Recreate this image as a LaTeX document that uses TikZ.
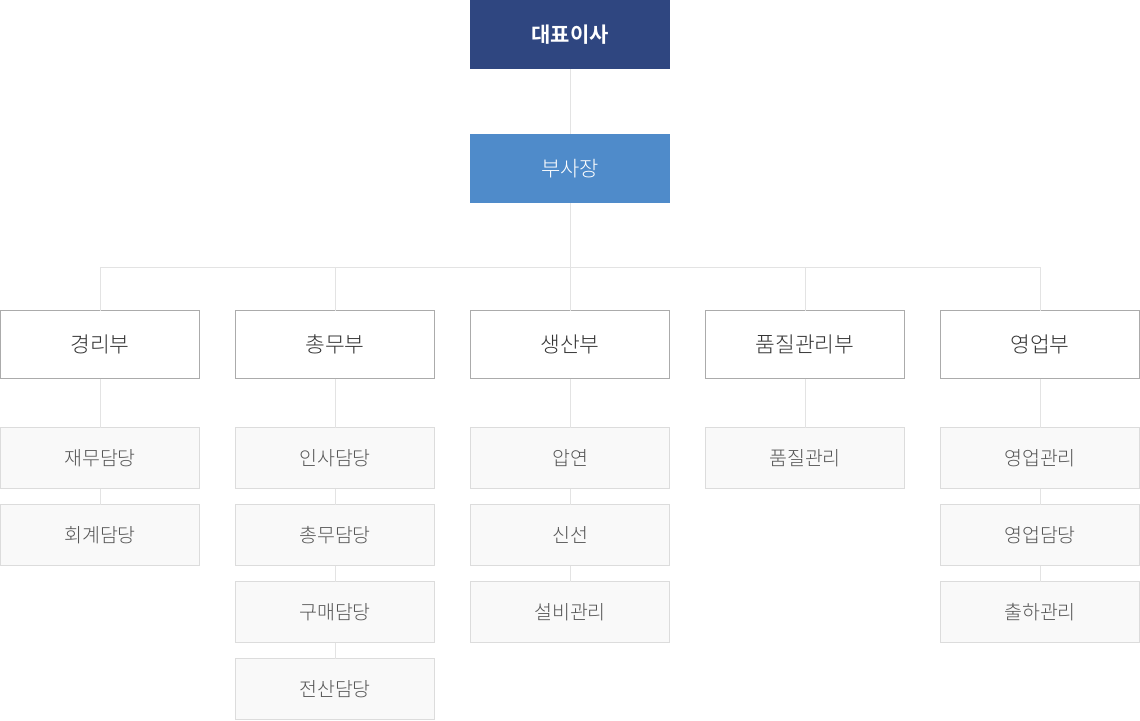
\documentclass[tikz,border=0pt]{standalone}
\usepackage{fontspec}
\setmainfont{Noto Sans CJK KR}[UprightFont=* Light,BoldFont=* Bold]
\definecolor{navy}{HTML}{2F4680}
\definecolor{bluebox}{HTML}{4F8BCA}
\definecolor{linec}{HTML}{E3E3E3}
\definecolor{deptborder}{HTML}{ABABAB}
\definecolor{subborder}{HTML}{DCDCDC}
\definecolor{subfill}{HTML}{F9F9F9}
\definecolor{txt}{HTML}{333333}
\definecolor{subtxt}{HTML}{555555}
\begin{document}
\begin{tikzpicture}[x=1pt,y=-1pt,
  topbox/.style={minimum width=200pt,minimum height=69pt,inner sep=0pt,outer sep=0pt,anchor=north west,text=white,font=\fontsize{21}{24}\selectfont},
  deptbox/.style={draw=deptborder,line width=1pt,fill=white,minimum width=199pt,minimum height=68pt,inner sep=0pt,outer sep=0pt,anchor=north west,text=txt,font=\fontsize{21.5}{24}\selectfont},
  subbox/.style={draw=subborder,line width=1pt,fill=subfill,minimum width=199pt,minimum height=61pt,inner sep=0pt,outer sep=0pt,anchor=north west,text=subtxt,font=\fontsize{19.5}{22}\selectfont},
  conn/.style={draw=linec,line width=1pt}]
\useasboundingbox (0,0) rectangle (1140,720);
\coordinate (hl) at (100,267);
\coordinate (hr) at (1040,267);
\coordinate (hm) at (570,267);
\node[topbox,fill=navy,font=\fontsize{21}{24}\selectfont\bfseries] (ceo) at (470,0) {대표이사};
\node[topbox,fill=bluebox] (vp) at (470,134) {부사장};
\node[deptbox] (d1) at (0.5,310.5) {경리부};
\node[deptbox] (d2) at (235.5,310.5) {총무부};
\node[deptbox] (d3) at (470.5,310.5) {생산부};
\node[deptbox] (d4) at (705.5,310.5) {품질관리부};
\node[deptbox] (d5) at (940.5,310.5) {영업부};
\node[subbox] (s11) at (0.5,427.5) {재무담당};
\node[subbox] (s12) at (0.5,504.5) {회계담당};
\node[subbox] (s21) at (235.5,427.5) {인사담당};
\node[subbox] (s22) at (235.5,504.5) {총무담당};
\node[subbox] (s23) at (235.5,581.5) {구매담당};
\node[subbox] (s24) at (235.5,658.5) {전산담당};
\node[subbox] (s31) at (470.5,427.5) {압연};
\node[subbox] (s32) at (470.5,504.5) {신선};
\node[subbox] (s33) at (470.5,581.5) {설비관리};
\node[subbox] (s41) at (705.5,427.5) {품질관리};
\node[subbox] (s51) at (940.5,427.5) {영업관리};
\node[subbox] (s52) at (940.5,504.5) {영업담당};
\node[subbox] (s53) at (940.5,581.5) {출하관리};
\draw[conn] (ceo.south) -- (vp.north);
\draw[conn] (vp.south) -- (hm);
\draw[conn] (d1.north) |- (hl) -- (hr) -- (d5.north);
\draw[conn] (d2.north) -- (d2.north |- hm);
\draw[conn] (d4.north) -- (d4.north |- hm);
\draw[conn] (hm) -- (d3.north);
\foreach \a/\b in {d1/s11,s11/s12,d2/s21,s21/s22,s22/s23,s23/s24,d3/s31,s31/s32,s32/s33,d4/s41,d5/s51,s51/s52,s52/s53}
  \draw[conn] (\a.south) -- (\b.north);
\end{tikzpicture}
\end{document}
